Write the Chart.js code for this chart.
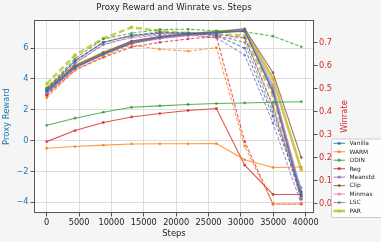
<!DOCTYPE html>
<html>
<head>
<meta charset="utf-8">
<script src="https://cdn.jsdelivr.net/npm/chart.js@4.4.0/dist/chart.umd.min.js"></script>
<style>
  body { margin: 0; background: #f5f5f5; }
  canvas { display: block; }
</style>
</head>
<body>
<canvas id="lineChart" width="381" height="242"></canvas>
<script>
// data
const steps = [0, 4370, 8740, 13110, 17480, 21850, 26220, 30590, 34960, 39330];
const stepTicks = [0, 5000, 10000, 15000, 20000, 25000, 30000, 35000, 40000];
const methods = ['Vanilla', 'WARM', 'ODIN', 'Reg', 'Meanstd', 'Clip', 'Minmax', 'LSC', 'PAR'];
const colors = ['#1f77b4', '#ff7f0e', '#2ca02c', '#d62728', '#9467bd', '#8c564b', '#e377c2', '#7f7f7f', '#bcbd22'];

const vanillaProxy = [3.2, 4.75, 5.6, 6.35, 6.7, 6.9, 7.0, 7.1, 3.2, -3.6];
const warmProxy = [-0.5, -0.39, -0.3, -0.22, -0.21, -0.21, -0.2, -1.25, -1.75, -1.72];
const odinProxy = [0.99, 1.45, 1.84, 2.16, 2.25, 2.34, 2.40, 2.44, 2.48, 2.52];
const regProxy = [-0.07, 0.65, 1.17, 1.53, 1.75, 1.95, 2.08, -1.6, -3.5, -3.5];
const meanstdProxy = [3.1, 4.7, 5.6, 6.3, 6.65, 6.85, 7.0, 7.15, 3.1, -3.8];
const clipProxy = [3.3, 4.85, 5.7, 6.45, 6.75, 6.95, 7.05, 7.25, 4.4, -1.1];
const minmaxProxy = [3.0, 4.7, 5.55, 6.3, 6.6, 6.8, 6.95, 7.2, 3.6, -3.5];
const lscProxy = [3.2, 4.8, 5.65, 6.4, 6.7, 6.9, 7.0, 7.1, 3.4, -3.3];
const parProxy = [3.4, 4.85, 5.7, 6.4, 6.7, 6.9, 7.05, 7.2, 4.0, -1.9];

const vanillaWin = [0.49, 0.62, 0.70, 0.73, 0.745, 0.74, 0.73, 0.675, 0.38, 0.05];
const warmWin = [0.46, 0.58, 0.64, 0.69, 0.67, 0.662, 0.677, 0.25, 0.0, 0.0];
const odinWin = [0.50, 0.63, 0.715, 0.74, 0.756, 0.757, 0.75, 0.746, 0.727, 0.681];
const regWin = [0.47, 0.58, 0.635, 0.68, 0.70, 0.715, 0.725, 0.27, 0.0, 0.0];
const meanstdWin = [0.47, 0.61, 0.69, 0.725, 0.735, 0.735, 0.72, 0.645, 0.35, 0.0];
const clipWin = [0.50, 0.62, 0.70, 0.73, 0.74, 0.74, 0.735, 0.72, 0.42, 0.02];
const minmaxWin = [0.48, 0.61, 0.69, 0.72, 0.73, 0.73, 0.72, 0.72, 0.43, 0.03];
const lscWin = [0.49, 0.62, 0.70, 0.73, 0.74, 0.74, 0.73, 0.70, 0.40, 0.07];
const parWin = [0.52, 0.645, 0.717, 0.765, 0.75, 0.74, 0.735, 0.73, 0.47, 0.03];

const proxyData = [vanillaProxy, warmProxy, odinProxy, regProxy, meanstdProxy, clipProxy, minmaxProxy, lscProxy, parProxy];
const winData = [vanillaWin, warmWin, odinWin, regWin, meanstdWin, clipWin, minmaxWin, lscWin, parWin];

const FONT = 'DejaVu Sans';

function alpha(hex, a) {
    const n = parseInt(hex.slice(1), 16);
    return `rgba(${n >> 16}, ${(n >> 8) & 255}, ${n & 255}, ${a})`;
}

const datasets = [];
methods.forEach((m, i) => {
    const wide = m === 'PAR';
    datasets.push({
        label: m,
        data: steps.map((s, j) => ({ x: s, y: proxyData[i][j] })),
        yAxisID: 'y',
        borderColor: alpha(colors[i], 0.8),
        backgroundColor: alpha(colors[i], 0.8),
        borderWidth: wide ? 2.6 : 1.1,
        pointRadius: wide ? 1.8 : 1.4,
        pointBorderWidth: 0,
        tension: 0
    });
    datasets.push({
        label: m + ' winrate',
        data: steps.map((s, j) => ({ x: s, y: winData[i][j] })),
        yAxisID: 'y1',
        borderColor: alpha(colors[i], 0.75),
        backgroundColor: alpha(colors[i], 0.75),
        borderWidth: wide ? 2.6 : 1.1,
        borderDash: wide ? [6, 3] : [3.5, 1.8],
        pointRadius: wide ? 1.8 : 1.4,
        pointBorderWidth: 0,
        tension: 0
    });
});

// title, axis titles, frame and legend drawn by hand
const decor = {
    id: 'decor',
    beforeDraw(chart) {
        const { ctx, chartArea: a } = chart;
        ctx.save();
        ctx.fillStyle = '#ffffff';
        ctx.fillRect(a.left, a.top, a.right - a.left, a.bottom - a.top);
        ctx.restore();
    },
    afterDraw(chart) {
        const { ctx, chartArea: a } = chart;
        const cx = (a.left + a.right) / 2;
        const cy = (a.top + a.bottom) / 2;
        ctx.save();
        ctx.strokeStyle = '#555';
        ctx.lineWidth = 1;
        ctx.strokeRect(a.left + 0.5, a.top + 0.5, a.right - a.left - 1, a.bottom - a.top - 1);

        ctx.textAlign = 'center';
        ctx.textBaseline = 'middle';
        ctx.fillStyle = '#222';
        ctx.font = `8.6px "${FONT}"`;
        ctx.fillText('Proxy Reward and Winrate vs. Steps', cx, 8);
        ctx.font = `8.4px "${FONT}"`;
        ctx.fillText('Steps', cx, 234);

        ctx.save();
        ctx.translate(7, cy);
        ctx.rotate(-Math.PI / 2);
        ctx.fillStyle = '#1f77b4';
        ctx.fillText('Proxy Reward', 0, 0);
        ctx.restore();

        ctx.save();
        ctx.translate(345, cy);
        ctx.rotate(-Math.PI / 2);
        ctx.fillStyle = '#d62728';
        ctx.fillText('Winrate', 0, 0);
        ctx.restore();

        // legend
        const lx = 331.5, ly = 139, rowH = 8.46;
        ctx.fillStyle = 'rgba(255,255,255,0.85)';
        ctx.strokeStyle = '#cccccc';
        ctx.beginPath();
        ctx.roundRect(lx, ly, 60, 78.5, 2);
        ctx.fill();
        ctx.stroke();
        ctx.font = `5.9px "${FONT}"`;
        ctx.textAlign = 'left';
        methods.forEach((m, i) => {
            const y = ly + 4.3 + i * rowH;
            const wide = m === 'PAR';
            ctx.strokeStyle = alpha(colors[i], 0.8);
            ctx.lineWidth = wide ? 2.6 : 1.1;
            ctx.beginPath();
            ctx.moveTo(333.5, y);
            ctx.lineTo(345, y);
            ctx.stroke();
            ctx.fillStyle = alpha(colors[i], 0.8);
            ctx.beginPath();
            ctx.arc(339.2, y, 1.6, 0, Math.PI * 2);
            ctx.fill();
            ctx.fillStyle = '#222';
            ctx.fillText(m, 349.5, y + 0.3);
        });
        ctx.restore();
    }
};

const minus = v => (v < 0 ? '\u2212' + Math.abs(v) : String(v));

const lineChart = new Chart(document.getElementById('lineChart').getContext('2d'), {
    type: 'line',
    data: { datasets: datasets },
    options: {
        responsive: false,
        animation: false,
        devicePixelRatio: 1,
        layout: { padding: { top: 20, left: 0, right: 0, bottom: 0 } },
        plugins: {
            legend: { display: false },
            title: { display: false },
            tooltip: { enabled: false }
        },
        scales: {
            x: {
                type: 'linear',
                min: -1966,
                max: 41296,
                afterFit: s => { s.height = 29; },
                afterBuildTicks: s => { s.ticks = stepTicks.map(v => ({ value: v })); },
                border: { display: false },
                grid: { color: '#dddddd', borderDash: [2, 2], tickLength: 3.5, tickColor: '#555', tickBorderDash: [] },
                ticks: {
                    padding: 1,
                    maxRotation: 0,
                    autoSkip: false,
                    color: '#222',
                    font: { family: FONT, size: 8.2 },
                    callback: v => String(v)
                }
            },
            y: {
                position: 'left',
                min: -4.7,
                max: 7.82,
                afterFit: s => { s.width = 34; },
                border: { display: false },
                grid: { color: '#dddddd', borderDash: [2, 2], tickLength: 3.5, tickColor: '#555', tickBorderDash: [] },
                ticks: {
                    stepSize: 2,
                    includeBounds: false,
                    padding: 2,
                    color: '#1f77b4',
                    font: { family: FONT, size: 8.2 },
                    callback: minus
                }
            },
            y1: {
                position: 'right',
                min: -0.039,
                max: 0.797,
                afterFit: s => { s.width = 67; },
                border: { display: false },
                grid: { drawOnChartArea: false, tickLength: 3.5, tickColor: '#555' },
                ticks: {
                    stepSize: 0.1,
                    includeBounds: false,
                    padding: 1.5,
                    color: '#d62728',
                    font: { family: FONT, size: 8.2 },
                    callback: v => v.toFixed(1)
                }
            }
        }
    },
    plugins: [decor]
});
</script>
</body>
</html>
